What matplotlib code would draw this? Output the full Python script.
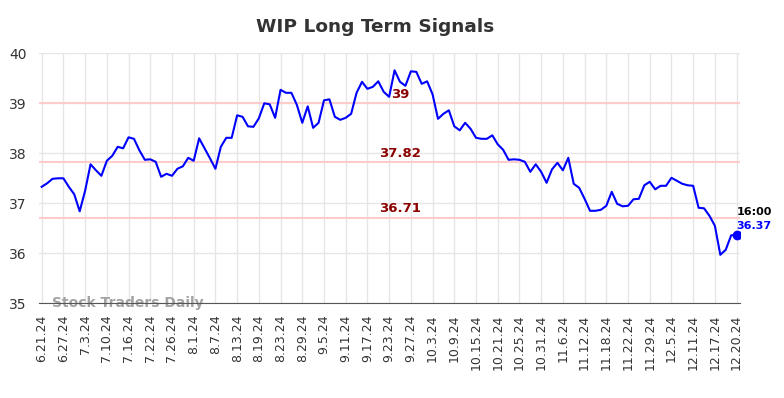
import numpy as np
import matplotlib
matplotlib.use("Agg")
import matplotlib.pyplot as plt

# closing prices, one per trading day
prices = [
    37.33, 37.40, 37.49, 37.50, 37.50, 37.33, 37.18, 36.84, 37.25, 37.78,
    37.66, 37.55, 37.85, 37.95, 38.13, 38.10, 38.32, 38.29, 38.06, 37.87,
    37.88, 37.83, 37.53, 37.59, 37.55, 37.69, 37.74, 37.91, 37.85, 38.30,
    38.10, 37.90, 37.69, 38.13, 38.31, 38.31, 38.76, 38.73, 38.54, 38.53,
    38.70, 39.00, 38.98, 38.71, 39.27, 39.21, 39.21, 38.97, 38.61, 38.94,
    38.51, 38.61, 39.06, 39.08, 38.73, 38.67, 38.71, 38.79, 39.21, 39.43,
    39.29, 39.33, 39.44, 39.23, 39.13, 39.66, 39.43, 39.35, 39.64, 39.63,
    39.39, 39.44, 39.18, 38.69, 38.79, 38.86, 38.54, 38.46, 38.61, 38.49,
    38.31, 38.29, 38.29, 38.36, 38.18, 38.07, 37.87, 37.88, 37.87, 37.83,
    37.63, 37.78, 37.63, 37.41, 37.68, 37.81, 37.66, 37.91, 37.39, 37.31,
    37.09, 36.85, 36.85, 36.87, 36.95, 37.23, 36.99, 36.94, 36.95, 37.08,
    37.09, 37.36, 37.43, 37.28, 37.35, 37.35, 37.51, 37.45, 37.39, 37.36,
    37.35, 36.91, 36.90, 36.75, 36.55, 35.97, 36.07, 36.36, 36.37,
]

tick_labels = [
    "6.21.24", "6.27.24", "7.3.24", "7.10.24", "7.16.24", "7.22.24", "7.26.24",
    "8.1.24", "8.7.24", "8.13.24", "8.19.24", "8.23.24", "8.29.24", "9.5.24",
    "9.11.24", "9.17.24", "9.23.24", "9.27.24", "10.3.24", "10.9.24",
    "10.15.24", "10.21.24", "10.25.24", "10.31.24", "11.6.24", "11.12.24",
    "11.18.24", "11.22.24", "11.29.24", "12.5.24", "12.11.24", "12.17.24",
    "12.20.24",
]
tick_step = 4

signal_levels = [39.0, 37.82, 36.71]
signal_texts = ["39", "37.82", "36.71"]

last_time = "16:00"

x = np.arange(len(prices))

fig = plt.figure(figsize=(7.84, 3.98), dpi=100)
ax = fig.add_axes([0.0497, 0.238, 0.894, 0.628])

# signal lines
for lvl in signal_levels:
    ax.axhline(lvl, color="#ffcccc", linewidth=1.5, zorder=1)

ax.plot(x, prices, color="#0000ff", linewidth=1.5, zorder=3)
ax.plot(x[-1], prices[-1], "o", color="#0000ff", markersize=6, zorder=4)

label_x = 66
for lvl, txt in zip(signal_levels, signal_texts):
    ax.annotate(txt, xy=(label_x, lvl), xytext=(0, 2), textcoords="offset points",
                ha="center", va="bottom", color="#8b0000", fontsize=9.5,
                fontweight="bold", zorder=5)

ax.annotate(last_time, xy=(x[-1], prices[-1]), xytext=(0, 13), textcoords="offset points",
            ha="left", va="bottom", color="black", fontsize=8, fontweight="bold")
ax.annotate(f"{prices[-1]:.2f}", xy=(x[-1], prices[-1]), xytext=(0, 3), textcoords="offset points",
            ha="left", va="bottom", color="#0000ff", fontsize=8, fontweight="bold")

ax.text(0.018, 0.0, "Stock Traders Daily", transform=ax.transAxes, ha="left", va="center",
        color="#999999", fontsize=10, fontweight="bold", alpha=0.9, zorder=2)

ax.set_xlim(-0.5, len(prices) - 0.4)
ax.set_ylim(35, 40)
ax.set_yticks([35, 36, 37, 38, 39, 40])
ax.set_xticks(x[::tick_step])
ax.set_xticklabels(tick_labels, rotation=90, fontsize=9, color="#333333")
ax.tick_params(axis="y", labelsize=10, colors="#333333", length=0, pad=9)
ax.tick_params(axis="x", length=0, pad=8)

ax.grid(True, color="#e6e6e6", linewidth=1)
ax.set_axisbelow(True)
for side in ["top", "right", "left"]:
    ax.spines[side].set_visible(False)
ax.spines["bottom"].set_color("#555555")

fig.suptitle("WIP Long Term Signals", x=0.479, y=0.955, fontsize=13.3, fontweight="bold", color="#333333")

fig.savefig("out.png", dpi=100)
